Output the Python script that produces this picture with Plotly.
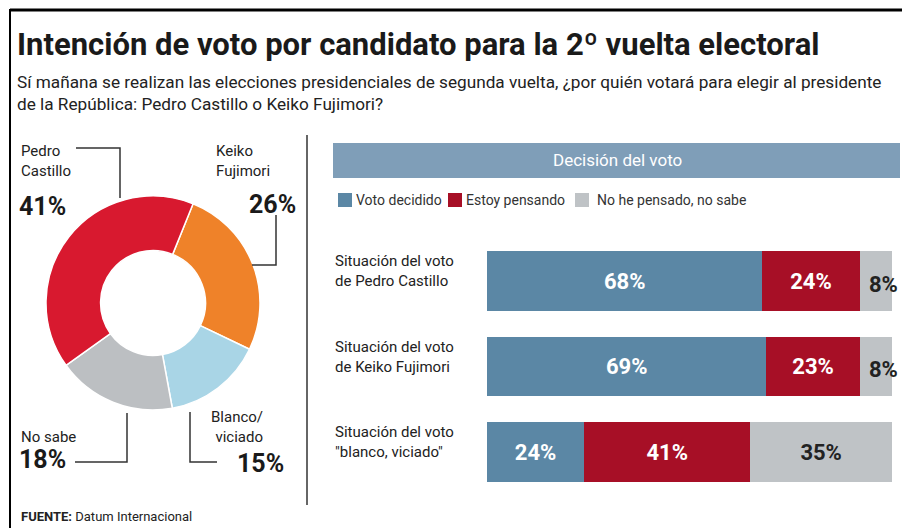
import plotly.graph_objects as go

W, H = 902, 528

# ---------------- data ----------------
donut_labels = ["Keiko Fujimori", "Blanco/viciado", "No sabe", "Pedro Castillo"]
donut_values = [26, 15, 18, 41]
donut_colors = ["#ef8229", "#a9d5e6", "#bcbfc2", "#d8192f"]

bar_categories = ["Situación del voto<br>de Pedro Castillo",
                  "Situación del voto<br>de Keiko Fujimori",
                  "Situación del voto<br>\"blanco, viciado\""]
series_names = ["Voto decidido", "Estoy pensando", "No he pensado, no sabe"]
voto_decidido = [68, 69, 24]
estoy_pensando = [24, 23, 41]
no_sabe = [8, 8, 35]
series_values = [voto_decidido, estoy_pensando, no_sabe]
series_colors = ["#5b87a5", "#a70f26", "#bfc3c6"]
series_text_colors = ["white", "white", "#222222"]

title = "Intención de voto por candidato para la 2º vuelta electoral"
subtitle = ("Sí mañana se realizan las elecciones presidenciales de segunda vuelta, ¿por quién votará para elegir al presidente<br>"
            "de la República: Pedro Castillo o Keiko Fujimori?")
source_bold = "FUENTE:"
source_text = "Datum Internacional"

TITLE_FONT = "Roboto, Liberation Sans, sans-serif"
BODY_FONT = "Roboto, Liberation Sans, sans-serif"


def px(x):
    return x / W


def py(y):
    return 1 - y / H


fig = go.Figure()

# ---------------- donut ----------------
cx, cy, r = 153, 303, 107
fig.add_trace(go.Pie(
    labels=donut_labels, values=donut_values, sort=False,
    direction="clockwise", rotation=22, hole=0.49,
    marker=dict(colors=donut_colors, line=dict(color="white", width=1.5)),
    textinfo="none", hoverinfo="label+percent", showlegend=False,
    domain=dict(x=[px(cx - r), px(cx + r)], y=[py(cy + r), py(cy - r)]),
))

# ---------------- stacked bars ----------------
for name, vals, col, tcol in zip(series_names, series_values, series_colors, series_text_colors):
    if name == "No he pensado, no sabe":
        tpos = ["none" if v < 10 else "inside" for v in vals]
    else:
        tpos = "inside"
    fig.add_trace(go.Bar(
        y=bar_categories, x=vals, name=name, orientation="h",
        marker=dict(color=col, line=dict(width=0)),
        text=[f"{v}%" for v in vals], textposition=tpos,
        insidetextanchor="middle",
        textfont=dict(color=tcol, size=22, family=BODY_FONT, weight="bold"),
        showlegend=False, xaxis="x", yaxis="y",
    ))

fig.update_layout(
    barmode="stack", bargap=0.3,
    width=W, height=H, margin=dict(l=0, r=0, t=0, b=0),
    paper_bgcolor="white", plot_bgcolor="white",
    xaxis=dict(domain=[px(487), px(892)], range=[0, 100], visible=False, fixedrange=True),
    yaxis=dict(domain=[py(494.75), py(238.25)], autorange="reversed", visible=False,
               categoryorder="array", categoryarray=bar_categories),
    uniformtext=dict(mode=False),
)

annotations = []
shapes = []

# small outside labels for narrow segments
for cat, a, b, c in zip(bar_categories, voto_decidido, estoy_pensando, no_sabe):
    if c < 10:
        annotations.append(dict(x=a + b + c, y=cat, xref="x", yref="y", text=f"<b>{c}%</b>",
                                showarrow=False, xanchor="right", yanchor="middle", xshift=8, yshift=-3,
                                font=dict(size=22, color="#222222", family=BODY_FONT)))

# category labels
for cat in bar_categories:
    annotations.append(dict(x=px(333), y=cat, xref="paper", yref="y", text=cat,
                            showarrow=False, xanchor="left", yanchor="middle", align="left",
                            yshift=10, font=dict(size=15, color="#222222", family=BODY_FONT)))

# frame
shapes.append(dict(type="line", xref="paper", yref="paper", x0=px(10), x1=px(902), y0=py(10), y1=py(10),
                   line=dict(color="black", width=3)))
shapes.append(dict(type="line", xref="paper", yref="paper", x0=px(10), x1=px(10), y0=py(9), y1=py(528),
                   line=dict(color="black", width=2)))
# divider
shapes.append(dict(type="line", xref="paper", yref="paper", x0=px(307), x1=px(307), y0=py(135), y1=py(505),
                   line=dict(color="#333333", width=1.5)))

# header bar
shapes.append(dict(type="rect", xref="paper", yref="paper", x0=px(333), x1=px(900), y0=py(178), y1=py(143),
                   fillcolor="#7f9eb8", line=dict(width=0)))
annotations.append(dict(x=px(617), y=py(160), xref="paper", yref="paper", text="Decisión del voto",
                        showarrow=False, xanchor="center", yanchor="middle",
                        font=dict(size=17, color="white", family=BODY_FONT)))

# legend
legend_x = [338, 448, 575]
legend_tx = [354, 464, 595]
for name, col, lx, tx in zip(series_names, series_colors, legend_x, legend_tx):
    shapes.append(dict(type="rect", xref="paper", yref="paper", x0=px(lx), x1=px(lx + 14),
                       y0=py(207), y1=py(193), fillcolor=col, line=dict(width=0)))
    annotations.append(dict(x=px(tx), y=py(200), xref="paper", yref="paper", text=name,
                            showarrow=False, xanchor="left", yanchor="middle",
                            font=dict(size=14, color="#333333", family=BODY_FONT)))

# title & subtitle
annotations.append(dict(x=px(15), y=py(44), xref="paper", yref="paper", text=f"<b>{title}</b>",
                        showarrow=False, xanchor="left", yanchor="middle",
                        font=dict(size=31, color="#1a1a1a", family=TITLE_FONT)))
annotations.append(dict(x=px(15), y=py(93), xref="paper", yref="paper", text=subtitle,
                        showarrow=False, xanchor="left", yanchor="middle", align="left",
                        font=dict(size=17.2, color="#222222", family=TITLE_FONT)))

# donut labels
lab_font = dict(size=15, color="#222222", family=BODY_FONT)
big_font = dict(size=25, color="#1a1a1a", family=BODY_FONT)
pct = dict(zip(donut_labels, donut_values))

donut_annots = [
    dict(x=px(19), y=py(161), text="Pedro<br>Castillo", xanchor="left", align="left", font=lab_font),
    dict(x=px(17), y=py(206), text=f"<b>{pct['Pedro Castillo']}%</b>", xanchor="left", font=big_font),
    dict(x=px(214), y=py(161), text="Keiko<br>Fujimori", xanchor="left", align="left", font=lab_font),
    dict(x=px(298), y=py(204), text=f"<b>{pct['Keiko Fujimori']}%</b>", xanchor="right", font=big_font),
    dict(x=px(265), y=py(427), text="Blanco/<br>viciado", xanchor="right", align="right", font=lab_font),
    dict(x=px(286), y=py(463), text=f"<b>{pct['Blanco/viciado']}%</b>", xanchor="right", font=big_font),
    dict(x=px(19), y=py(437), text="No sabe", xanchor="left", font=lab_font),
    dict(x=px(17), y=py(459), text=f"<b>{pct['No sabe']}%</b>", xanchor="left", font=big_font),
]
for a in donut_annots:
    a.update(xref="paper", yref="paper", showarrow=False, yanchor="middle")
annotations += donut_annots


# leader lines
def path(points):
    d = "M " + " L ".join(f"{px(x)},{py(y)}" for x, y in points)
    return dict(type="path", xref="paper", yref="paper", path=d, line=dict(color="#333333", width=1.5))


shapes += [
    path([(76, 148), (120, 148), (120, 198)]),
    path([(276, 215), (276, 265), (252, 265)]),
    path([(190, 412), (190, 462), (217, 462)]),
    path([(75, 462), (127, 462), (127, 413)]),
]

# source
annotations.append(dict(x=px(19), y=py(516), xref="paper", yref="paper",
                        text=f"<b>{source_bold}</b> {source_text}", showarrow=False,
                        xanchor="left", yanchor="middle",
                        font=dict(size=13, color="#222222", family=BODY_FONT)))

fig.update_layout(annotations=annotations, shapes=shapes)
fig.write_html("out.html", config={"displayModeBar": False},
               post_script="document.body.style.margin='0';document.body.style.overflow='hidden';")
